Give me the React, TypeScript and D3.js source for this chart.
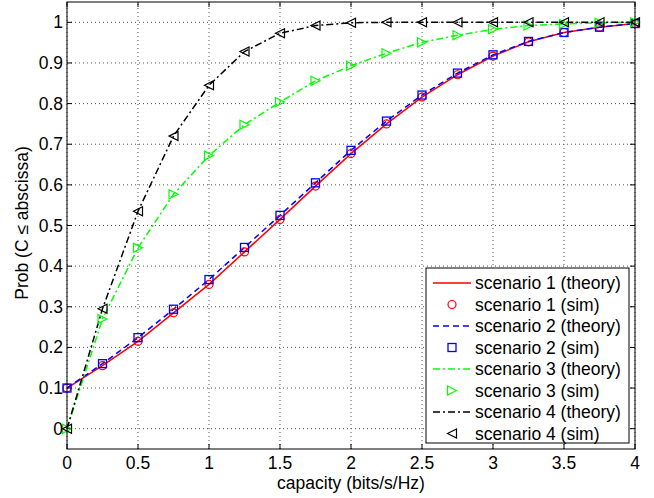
import * as d3 from 'd3';

const capacity = [0, 0.25, 0.5, 0.75, 1, 1.25, 1.5, 1.75, 2, 2.25, 2.5, 2.75, 3, 3.25, 3.5, 3.75, 4];

const scenario1 = [0.1, 0.155, 0.215, 0.285, 0.355, 0.435, 0.515, 0.597, 0.677, 0.75, 0.816, 0.871, 0.917, 0.952, 0.975, 0.988, 0.997];
const scenario2 = [0.1, 0.16, 0.224, 0.294, 0.367, 0.446, 0.525, 0.605, 0.685, 0.757, 0.821, 0.875, 0.92, 0.953, 0.975, 0.988, 0.997];
const scenario3 = [0, 0.27, 0.445, 0.577, 0.672, 0.748, 0.804, 0.856, 0.893, 0.924, 0.951, 0.968, 0.983, 0.992, 0.996, 0.999, 1];
const scenario4 = [0, 0.295, 0.535, 0.72, 0.845, 0.928, 0.973, 0.992, 0.999, 1, 1, 1, 1, 1, 1, 1, 1];

const xTicks = [0, 0.5, 1, 1.5, 2, 2.5, 3, 3.5, 4];
const yTicks = [0, 0.1, 0.2, 0.3, 0.4, 0.5, 0.6, 0.7, 0.8, 0.9, 1];

const legendLabels = [
  'scenario 1 (theory)',
  'scenario 1 (sim)',
  'scenario 2 (theory)',
  'scenario 2 (sim)',
  'scenario 3 (theory)',
  'scenario 3 (sim)',
  'scenario 4 (theory)',
  'scenario 4 (sim)',
];

const W = 654;
const H = 498;
const margin = { top: 2, right: 19, bottom: 49, left: 67 };
const FONT = "'Liberation Sans', Arial, Helvetica, sans-serif";
const FS = 17.5;

type Series = {
  values: number[];
  color: string;
  dash: string | null;
  marker: 'circle' | 'square' | 'triRight' | 'triLeft';
};

const series: Series[] = [
  { values: scenario1, color: '#ff0000', dash: null, marker: 'circle' },
  { values: scenario2, color: '#0000ff', dash: '6,4', marker: 'square' },
  { values: scenario3, color: '#00ff00', dash: '7,3,2,3', marker: 'triRight' },
  { values: scenario4, color: '#000000', dash: '7,3,2,3', marker: 'triLeft' },
];

function markerPath(kind: Series['marker'], cx: number, cy: number): string {
  const s = 4.5;
  if (kind === 'triRight') {
    return `M${cx - s},${cy - s}L${cx + s},${cy}L${cx - s},${cy + s}Z`;
  }
  return `M${cx + s},${cy - s}L${cx - s},${cy}L${cx + s},${cy + s}Z`;
}

function Marker({ kind, cx, cy, color }: { kind: Series['marker']; cx: number; cy: number; color: string }) {
  if (kind === 'circle') {
    return <circle cx={cx} cy={cy} r={4} fill="none" stroke={color} strokeWidth={1.2} />;
  }
  if (kind === 'square') {
    return <rect x={cx - 4} y={cy - 4} width={8} height={8} fill="none" stroke={color} strokeWidth={1.3} />;
  }
  return <path d={markerPath(kind, cx, cy)} fill="none" stroke={color} strokeWidth={1.2} />;
}

export default function App() {
  const x = d3.scaleLinear().domain([0, 4]).range([margin.left, W - margin.right]);
  const y = d3.scaleLinear().domain([-0.05, 1.05]).range([H - margin.bottom, margin.top]);

  const line = d3
    .line<number>()
    .x((d, i) => x(capacity[i]))
    .y(d => y(d));

  const [x0, x1] = x.range();
  const [y0, y1] = y.range();

  // legend box
  const lgX = 426;
  const lgY = 268;
  const lgW = 203;
  const lgH = 175;
  const rowH = 21.5;

  return (
    <svg width={W} height={H} style={{ position: 'absolute', left: 0, top: 0, background: '#fff' }}>
      <rect x={0} y={0} width={W} height={H} fill="#fff" />

      {/* grid */}
      <g stroke="#555" strokeWidth={1} strokeDasharray="1,3">
        {xTicks.map(t => (
          <line key={'gx' + t} x1={x(t)} x2={x(t)} y1={y0} y2={y1} />
        ))}
        {yTicks.map(t => (
          <line key={'gy' + t} x1={x0} x2={x1} y1={y(t)} y2={y(t)} />
        ))}
      </g>

      {/* ticks inside, all four sides */}
      <g stroke="#000" strokeWidth={1}>
        {xTicks.map(t => (
          <g key={'tx' + t}>
            <line x1={x(t)} x2={x(t)} y1={y0} y2={y0 - 5} />
            <line x1={x(t)} x2={x(t)} y1={y1} y2={y1 + 5} />
          </g>
        ))}
        {yTicks.map(t => (
          <g key={'ty' + t}>
            <line x1={x0} x2={x0 + 5} y1={y(t)} y2={y(t)} />
            <line x1={x1} x2={x1 - 5} y1={y(t)} y2={y(t)} />
          </g>
        ))}
      </g>

      {/* curves */}
      {series.map((s, i) => (
        <path
          key={'l' + i}
          d={line(s.values) || ''}
          fill="none"
          stroke={s.color}
          strokeWidth={1.5}
          strokeDasharray={s.dash || undefined}
        />
      ))}

      {/* sim markers */}
      {series.map((s, i) => (
        <g key={'m' + i}>
          {s.values.map((v, j) => (
            <Marker key={j} kind={s.marker} cx={x(capacity[j])} cy={y(v)} color={s.color} />
          ))}
        </g>
      ))}

      <rect x={x0} y={y1} width={x1 - x0} height={y0 - y1} fill="none" stroke="#000" strokeWidth={1} />

      {/* tick labels */}
      <g fontFamily={FONT} fontSize={FS} fill="#000">
        {xTicks.map(t => (
          <text key={'xl' + t} x={x(t)} y={y0 + 20} textAnchor="middle">
            {d3.format('')(t)}
          </text>
        ))}
        {yTicks.map(t => (
          <text key={'yl' + t} x={x0 - 4} y={y(t) + 6} textAnchor="end">
            {d3.format('')(t)}
          </text>
        ))}
      </g>

      <text x={(x0 + x1) / 2} y={489} textAnchor="middle" fontFamily={FONT} fontSize={FS}>
        capacity (bits/s/Hz)
      </text>
      <text transform="translate(28,223) rotate(-90)" textAnchor="middle" fontFamily={FONT} fontSize={FS}>
        Prob (C ≤ abscissa)
      </text>

      {/* legend */}
      <rect x={lgX} y={lgY} width={lgW} height={lgH} fill="#fff" stroke="#000" strokeWidth={1} />
      {legendLabels.map((label, i) => {
        const s = series[Math.floor(i / 2)];
        const cy = lgY + 15 + i * rowH;
        const isSim = i % 2 === 1;
        return (
          <g key={'lg' + i}>
            {isSim ? (
              <Marker kind={s.marker} cx={452} cy={cy} color={s.color} />
            ) : (
              <line
                x1={433}
                x2={471}
                y1={cy}
                y2={cy}
                stroke={s.color}
                strokeWidth={1.5}
                strokeDasharray={s.dash || undefined}
              />
            )}
            <text x={475} y={cy + 6} fontFamily={FONT} fontSize={FS}>
              {label}
            </text>
          </g>
        );
      })}
    </svg>
  );
}
